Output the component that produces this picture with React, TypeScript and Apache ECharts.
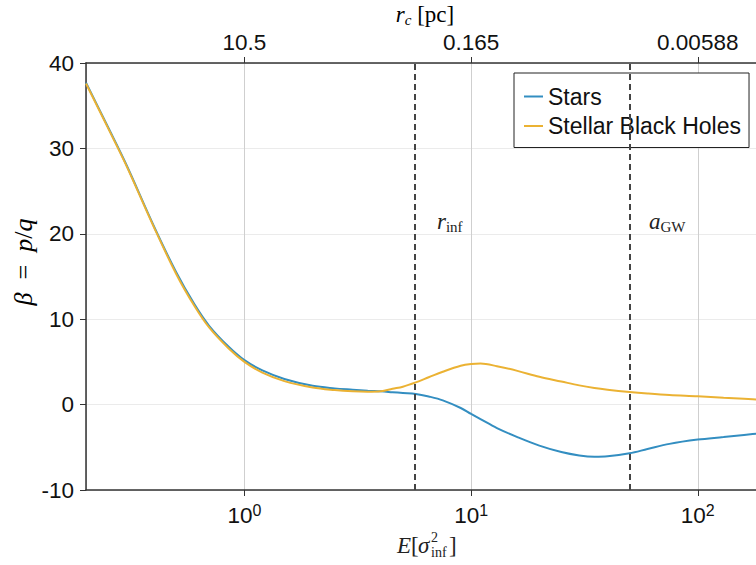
import React, { useEffect, useRef } from "react";
import * as echarts from "echarts";

// Energy grid (x values) shared by both series
const energy = [0.2, 0.25, 0.3, 0.4, 0.5, 0.6, 0.7, 0.85, 1.0, 1.2, 1.5, 2, 2.5, 3, 3.5, 4, 4.5, 5, 5.7, 6.5, 7.5, 9, 10, 11, 13, 16, 20, 25, 30, 35, 40, 50, 60, 75, 100, 130, 160, 200];
const starsBeta = [37.7, 32.5, 28.2, 20.8, 15.5, 11.8, 9.2, 6.8, 5.2, 4.0, 3.0, 2.2, 1.9, 1.75, 1.63, 1.55, 1.45, 1.36, 1.25, 0.95, 0.5, -0.4, -1.1, -1.7, -2.75, -3.8, -4.8, -5.55, -5.95, -6.1, -6.05, -5.7, -5.2, -4.6, -4.1, -3.8, -3.55, -3.3];
const sbhBeta = [37.6, 32.4, 28.1, 20.7, 15.3, 11.6, 9.0, 6.6, 5.0, 3.75, 2.75, 2.0, 1.7, 1.55, 1.5, 1.55, 1.85, 2.1, 2.6, 3.2, 3.85, 4.55, 4.75, 4.8, 4.5, 3.95, 3.25, 2.7, 2.25, 1.95, 1.75, 1.48, 1.3, 1.12, 0.97, 0.8, 0.68, 0.55];

const seriesNames = ["Stars", "Stellar Black Holes"];
const seriesColors = ["#338EC1", "#EBB233"];

// Vertical reference lines and their labels
const refLines = [5.65, 50];
const annX = [7.07, 60.9];
const annY = [21.4, 21.4];
const annText = ["{i|r}{s|inf}", "{i|a}{s|GW}"];

// Top axis tick labels (r_c in pc) at bottom-axis decades
const topTickValues = [1, 10, 100];
const topTickLabels = ["10.5", "0.165", "0.00588"];

const yTicks = { min: -10, max: 40, interval: 10 };

const SANS = "Liberation Sans";
const SERIF = "Liberation Serif";
const mathRich = {
  i: { fontFamily: SERIF, fontStyle: "italic", fontSize: 23, color: "#222", lineHeight: 26, verticalAlign: "middle" },
  n: { fontFamily: SERIF, fontSize: 23, color: "#222", lineHeight: 26, verticalAlign: "middle" },
  s: { fontFamily: SERIF, fontSize: 15, color: "#222", lineHeight: 15, verticalAlign: "bottom" },
  si: { fontFamily: SERIF, fontStyle: "italic", fontSize: 15, color: "#222", lineHeight: 15, verticalAlign: "bottom" },
};
const yNameRich = {
  i: { fontFamily: SERIF, fontStyle: "italic", fontSize: 26, color: "#222", lineHeight: 28, verticalAlign: "middle" },
  n: { fontFamily: SERIF, fontSize: 26, color: "#222", lineHeight: 28, verticalAlign: "middle" },
};

export default function App() {
  const ref = useRef<HTMLDivElement>(null);
  useEffect(() => {
    if (!ref.current) return;
    const chart = echarts.init(ref.current, undefined, { renderer: "svg" });
    const mk = (ys: number[]) => energy.map((x, i) => [x, ys[i]]);
    const option: any = {
      animation: false,
      backgroundColor: "#fff",
      grid: { left: 86, top: 63, width: 680, bottom: 75, containLabel: false, outerBoundsMode: "none" },
      legend: {
        data: seriesNames,
        orient: "vertical",
        left: 514,
        top: 73,
        padding: [12, 8, 10, 10],
        itemGap: 6.5,
        itemWidth: 19,
        itemHeight: 2,
        icon: "rect",
        borderColor: "#222",
        borderWidth: 1,
        backgroundColor: "#fff",
        textStyle: { fontFamily: SANS, fontSize: 23, color: "#111" },
      },
      xAxis: [
        {
          type: "log",
          logBase: 10,
          min: 0.2,
          max: 200,
          position: "bottom",
          axisLine: { show: true, onZero: false, lineStyle: { color: "#333", width: 1.5 } },
          axisTick: { show: true, inside: false, length: 6, lineStyle: { color: "#333" } },
          splitLine: { show: true, lineStyle: { color: "#cfcfcf", width: 1 } },
          minorTick: { show: false },
          axisLabel: {
            margin: 12,
            showMinLabel: false,
            showMaxLabel: false,
            formatter: (v: number) => {
              const l = Math.log10(v);
              const e = Math.round(l);
              if (Math.abs(l - e) > 1e-6) return "";
              return `{b|10}{s|${e}}`;
            },
            rich: {
              b: { fontFamily: SANS, fontSize: 22.5, color: "#111", lineHeight: 26, verticalAlign: "middle" },
              s: { fontFamily: SANS, fontSize: 16, color: "#111", lineHeight: 14, verticalAlign: "top" },
            },
          },
        },
        {
          type: "log",
          logBase: 10,
          min: 0.2,
          max: 200,
          position: "top",
          axisLine: { show: true, onZero: false, lineStyle: { color: "#333", width: 1.5 } },
          axisTick: { show: true, inside: false, length: 6, lineStyle: { color: "#333" } },
          splitLine: { show: false },
          axisLabel: {
            margin: 8,
            showMinLabel: false,
            showMaxLabel: false,
            fontFamily: SANS,
            fontSize: 22.5,
            color: "#111",
            lineHeight: 26,
            formatter: (v: number) => {
              const idx = topTickValues.findIndex((t) => Math.abs(Math.log10(t) - Math.log10(v)) < 1e-6);
              return idx >= 0 ? topTickLabels[idx] : "";
            },
          },
        },
      ],
      yAxis: {
        type: "value",
        min: yTicks.min,
        max: yTicks.max,
        interval: yTicks.interval,
        axisLine: { show: true, onZero: false, lineStyle: { color: "#333", width: 1.5 } },
        axisTick: { show: true, inside: false, length: 6, lineStyle: { color: "#333" } },
        splitLine: { show: true, lineStyle: { color: "#ebebeb", width: 1 } },
        axisLabel: { margin: 12, fontFamily: SANS, fontSize: 22.5, color: "#111" },
      },
      series: [
        {
          name: seriesNames[0],
          type: "line",
          xAxisIndex: 0,
          data: mk(starsBeta),
          showSymbol: false,
          smooth: 0.35,
          color: seriesColors[0],
          lineStyle: { width: 2, color: seriesColors[0] },
          markLine: {
            silent: true,
            symbol: ["none", "none"],
            label: { show: false },
            lineStyle: { color: "#444", type: [6, 4], width: 2 },
            data: refLines.map((x) => ({ xAxis: x })),
          },
          markPoint: {
            silent: true,
            symbol: "circle",
            symbolSize: 0,
            data: annX.map((x, i) => ({
              coord: [x, annY[i]],
              label: {
                show: true,
                position: "right",
                distance: 0,
                formatter: annText[i],
                rich: mathRich,
              },
            })),
          },
        },
        {
          name: seriesNames[1],
          type: "line",
          xAxisIndex: 0,
          data: mk(sbhBeta),
          showSymbol: false,
          smooth: 0.35,
          color: seriesColors[1],
          lineStyle: { width: 2, color: seriesColors[1] },
        },
      ],
      graphic: [
        {
          type: "text",
          x: 425,
          y: 14,
          style: {
            text: "{i|r}{si|c}{n| [pc]}",
            rich: mathRich,
            align: "center",
            verticalAlign: "middle",
          },
        },
        {
          type: "text",
          x: 23,
          y: 262,
          rotation: Math.PI / 2,
          style: {
            text: "{i|β}{n|  =  }{i|p}{n|/}{i|q}",
            rich: yNameRich,
            align: "center",
            verticalAlign: "middle",
          },
        },
        {
          type: "group",
          x: 397,
          y: 545,
          children: [
            { type: "text", x: 0, y: 0, style: { text: "E", font: `italic 23px ${SERIF}`, fill: "#222", verticalAlign: "middle" } },
            { type: "text", x: 14, y: 0, style: { text: "[", font: `23px ${SERIF}`, fill: "#222", verticalAlign: "middle" } },
            { type: "text", x: 21, y: 0, style: { text: "σ", font: `italic 23px ${SERIF}`, fill: "#222", verticalAlign: "middle" } },
            { type: "text", x: 34, y: -8, style: { text: "2", font: `14px ${SERIF}`, fill: "#222", verticalAlign: "middle" } },
            { type: "text", x: 34, y: 7, style: { text: "inf", font: `14px ${SERIF}`, fill: "#222", verticalAlign: "middle" } },
            { type: "text", x: 52, y: 0, style: { text: "]", font: `23px ${SERIF}`, fill: "#222", verticalAlign: "middle" } },
          ],
        },
      ],
    };
    chart.setOption(option);
    return () => chart.dispose();
  }, []);
  return <div ref={ref} style={{ width: 756, height: 565, position: "absolute", left: 0, top: 0 }} />;
}
